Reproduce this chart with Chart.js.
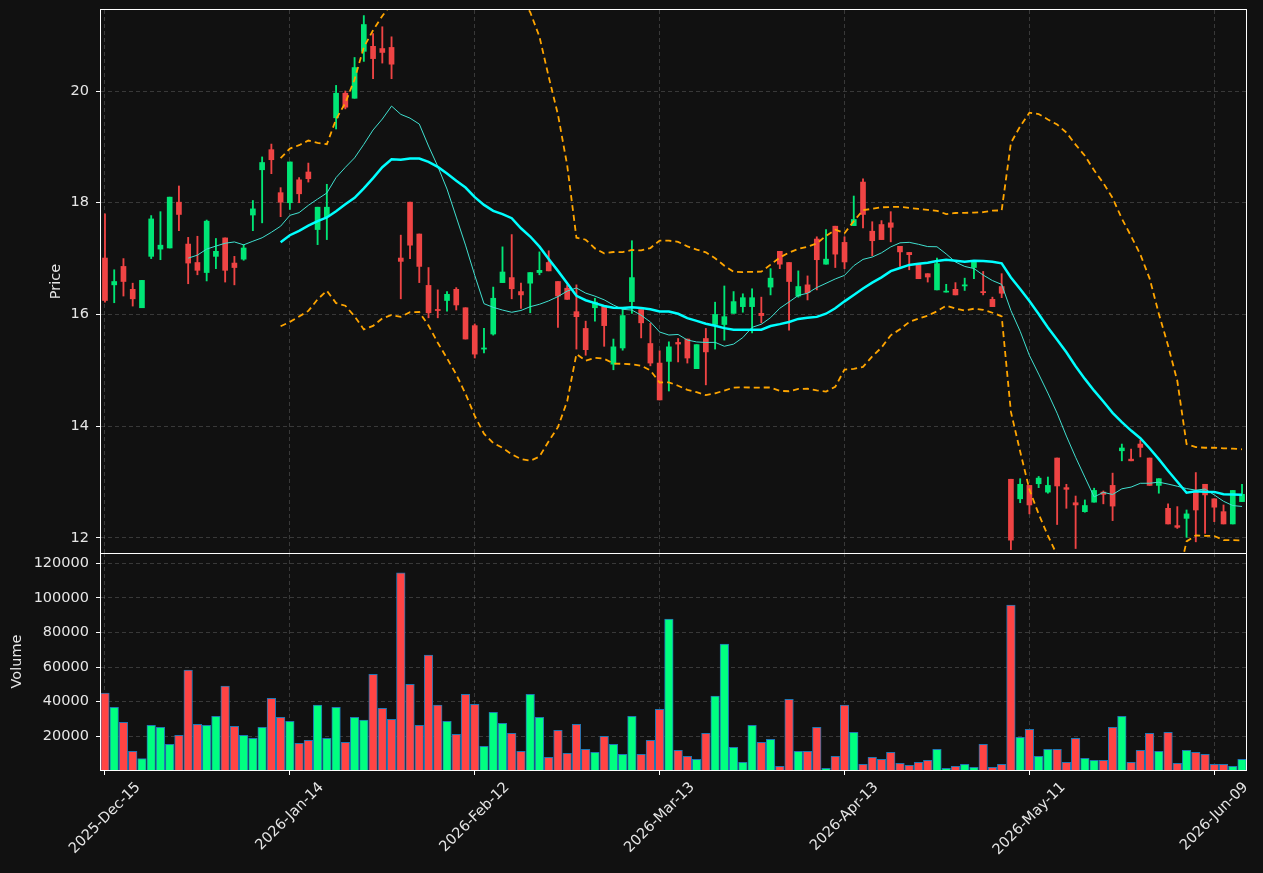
<!DOCTYPE html>
<html>
<head>
<meta charset="utf-8">
<title>Price and volume</title>
<script src="https://cdn.jsdelivr.net/npm/chart.js@4.4.1/dist/chart.umd.min.js"></script>
<style>
  html, body { margin: 0; padding: 0; background: #111111; }
  #wrap { position: relative; width: 1263px; height: 873px; background: #111111; }
  #wrap canvas { position: absolute; left: 0; }
</style>
</head>
<body>
<div id="wrap">
  <canvas id="priceChart" width="1263" height="560" style="top:0"></canvas>
  <canvas id="volumeChart" width="1263" height="320" style="top:553px"></canvas>
</div>
<script>
// daily candles (index 0 = 2025-12-15)
const opens = [17.01, 16.53, 16.86, 16.45, 16.12, 17.04, 17.17, 17.19, 18.01, 17.26,
  16.93, 16.75, 17.04, 17.37, 16.92, 16.99, 17.78, 18.59, 18.95, 18.18,
  18.00, 18.41, 18.55, 17.52, 17.75, 19.52, 19.96, 19.87, 20.71, 20.80,
  20.76, 20.78, 17.01, 18.01, 17.44, 16.52, 16.09, 16.25, 16.45, 16.12,
  15.80, 15.38, 15.65, 16.57, 16.66, 16.41, 16.56, 16.75, 16.93, 16.59,
  16.47, 16.05, 15.75, 16.12, 16.15, 15.11, 15.40, 16.23, 16.09, 15.48,
  15.13, 15.16, 15.50, 15.56, 15.03, 15.57, 15.82, 15.82, 16.02, 16.14,
  16.14, 16.02, 16.49, 17.13, 16.93, 16.33, 16.53, 17.35, 16.90, 17.58,
  17.29, 17.59, 18.37, 17.49, 17.61, 17.64, 17.22, 17.11, 16.90, 16.73,
  16.44, 16.40, 16.45, 16.51, 16.84, 16.41, 16.27, 16.50, 13.05, 12.70,
  12.94, 12.97, 12.82, 13.43, 12.90, 12.63, 12.47, 12.64, 12.82, 12.94,
  13.56, 13.41, 13.68, 13.43, 12.94, 12.53, 12.22, 12.35, 12.84, 12.96,
  12.70, 12.47, 12.25, 12.65];
const highs = [17.80, 16.80, 17.00, 16.56, 16.61, 17.77, 17.84, 18.10, 18.30, 17.38,
  17.40, 17.69, 17.36, 17.37, 17.04, 17.25, 18.04, 18.82, 19.05, 18.27,
  18.73, 18.45, 18.71, 17.92, 18.33, 20.10, 20.00, 20.60, 21.35, 21.03,
  21.15, 20.97, 17.42, 18.01, 17.44, 16.84, 16.44, 16.41, 16.48, 16.12,
  15.83, 15.75, 16.49, 17.21, 17.43, 16.56, 16.75, 17.12, 17.14, 16.59,
  16.53, 16.53, 15.88, 16.29, 16.15, 15.56, 16.12, 17.32, 16.09, 15.84,
  15.35, 15.51, 15.57, 15.56, 15.46, 15.75, 16.22, 16.51, 16.41, 16.37,
  16.46, 16.31, 16.82, 17.13, 16.93, 16.78, 16.69, 17.39, 17.52, 17.58,
  17.39, 18.12, 18.43, 17.66, 17.68, 17.84, 17.22, 17.11, 16.90, 16.73,
  17.01, 16.54, 16.57, 16.65, 16.96, 16.77, 16.31, 16.73, 13.05, 13.06,
  12.94, 13.10, 13.09, 13.43, 12.96, 12.75, 12.68, 12.89, 12.84, 13.16,
  13.68, 13.59, 13.75, 13.43, 13.06, 12.61, 12.56, 12.50, 13.17, 12.96,
  12.70, 12.59, 12.85, 12.96];
const lows = [16.22, 16.21, 16.33, 16.15, 16.12, 17.00, 16.98, 17.19, 17.50, 16.55,
  16.71, 16.60, 16.82, 16.58, 16.53, 16.97, 17.50, 17.64, 18.52, 17.75,
  17.88, 18.00, 18.37, 17.25, 17.34, 19.32, 19.68, 19.87, 20.53, 20.22,
  20.50, 20.22, 16.28, 17.00, 16.57, 15.94, 15.94, 16.06, 16.08, 15.56,
  15.22, 15.31, 15.63, 16.57, 16.28, 16.11, 16.03, 16.71, 16.78, 15.77,
  16.27, 15.38, 15.27, 15.88, 15.43, 15.01, 15.36, 16.02, 15.58, 15.08,
  14.47, 14.63, 15.15, 15.13, 15.03, 14.74, 15.38, 15.54, 16.02, 16.04,
  15.67, 15.85, 16.35, 16.82, 15.72, 16.31, 16.26, 16.44, 16.90, 16.84,
  16.82, 17.59, 17.55, 17.05, 17.34, 17.30, 16.86, 16.80, 16.64, 16.58,
  16.44, 16.40, 16.35, 16.43, 16.64, 16.35, 16.14, 16.30, 11.79, 12.63,
  12.43, 12.90, 12.80, 12.24, 12.53, 11.81, 12.46, 12.64, 12.61, 12.31,
  13.38, 13.38, 13.45, 12.94, 12.80, 12.25, 12.17, 12.01, 11.93, 12.08,
  12.29, 12.25, 12.25, 12.65];
const closes = [16.25, 16.59, 16.59, 16.28, 16.61, 17.71, 17.24, 18.10, 17.79, 16.92,
  16.79, 17.67, 17.13, 16.79, 16.84, 17.19, 17.89, 18.72, 18.77, 18.01,
  18.73, 18.16, 18.43, 17.92, 17.92, 19.96, 19.71, 20.42, 21.19, 20.58,
  20.69, 20.48, 16.95, 17.24, 16.86, 16.03, 16.07, 16.36, 16.17, 15.56,
  15.29, 15.40, 16.29, 16.76, 16.46, 16.35, 16.75, 16.79, 16.78, 16.33,
  16.27, 15.96, 15.37, 16.22, 15.80, 15.42, 15.98, 16.66, 15.85, 15.13,
  14.47, 15.42, 15.47, 15.22, 15.46, 15.33, 16.00, 15.96, 16.23, 16.30,
  16.30, 15.98, 16.65, 16.90, 16.59, 16.50, 16.39, 16.98, 16.99, 17.08,
  16.94, 17.70, 17.79, 17.32, 17.34, 17.56, 17.12, 17.07, 16.64, 16.67,
  16.91, 16.41, 16.35, 16.53, 16.96, 16.39, 16.14, 16.38, 11.96, 12.96,
  12.59, 13.07, 12.94, 12.93, 12.87, 12.59, 12.58, 12.85, 12.78, 12.57,
  13.61, 13.38, 13.62, 12.94, 13.06, 12.25, 12.19, 12.43, 12.50, 12.77,
  12.55, 12.25, 12.85, 12.78];
const volumes = [45000, 36800, 28100, 11300, 7050, 26400, 25200, 15400, 20600, 58250,
  26950, 26400, 31600, 49000, 25800, 20600, 18800, 25200, 42000, 31000,
  28700, 15900, 17700, 38000, 18800, 36800, 16500, 31000, 29300, 55900,
  36200, 29850, 114500, 50100, 26400, 66900, 38000, 28700, 21150, 44300,
  38500, 14200, 33900, 27500, 21700, 11300, 44300, 31000, 7800, 23500,
  10100, 26950, 12500, 10700, 20000, 15400, 9560, 31600, 9560, 17700,
  35650, 87800, 11900, 8400, 6700, 21700, 43200, 73300, 13600, 4900,
  26400, 16500, 18260, 2600, 41400, 11300, 11300, 25200, 1450, 8400,
  38000, 22300, 3770, 7800, 6700, 10700, 4350, 3200, 4900, 6100,
  12460, 1450, 2600, 3770, 2030, 15400, 2030, 3770, 95900, 19400,
  24050, 8400, 12460, 12460, 4900, 18800, 7250, 6100, 6100, 25200,
  31600, 4900, 11900, 21700, 11300, 22300, 4350, 11900, 10700, 9560,
  3770, 3770, 2600, 6700];

const priceTicks = [12, 14, 16, 18, 20];
const volumeTicks = [20000, 40000, 60000, 80000, 100000, 120000];
const tickIdx = [0, 20, 40, 60, 80, 100, 120];
const tickLabels = ['2025-Dec-15', '2026-Jan-14', '2026-Feb-12', '2026-Mar-13',
  '2026-Apr-13', '2026-May-11', '2026-Jun-09'];

const textColor = '#e6e6e6';
const gridColor = 'rgba(255,255,255,0.17)';
const fontSpec = { family: "'DejaVu Sans', sans-serif", size: 14.5 };
Chart.defaults.font.family = fontSpec.family;
Chart.defaults.font.size = fontSpec.size;
Chart.defaults.color = textColor;

const isUp = opens.map((o, i) => closes[i] >= o);
const candleColors = isUp.map(u => u ? '#00e676' : '#ef4444');
const volColors = isUp.map(u => u ? '#00ff80' : '#ff4444');

// rolling mean / bollinger from the closes
function sma(arr, n) {
  const out = [];
  for (let i = n - 1; i < arr.length; i++) {
    let s = 0;
    for (let j = i - n + 1; j <= i; j++) s += arr[j];
    out.push({ x: i, y: s / n });
  }
  return out;
}
function band(arr, n, k) {
  const out = [];
  for (let i = n - 1; i < arr.length; i++) {
    const w = arr.slice(i - n + 1, i + 1);
    const m = w.reduce((a, b) => a + b, 0) / n;
    const sd = Math.sqrt(w.reduce((a, b) => a + (b - m) * (b - m), 0) / (n - 1));
    out.push({ x: i, y: m + k * sd });
  }
  return out;
}

const xMin = -0.43, xMax = 123.43;

// no extra label padding, the plot boxes are placed by hand
function noPad(s) {
  s.paddingTop = 0; s.paddingBottom = 0; s.paddingLeft = 0; s.paddingRight = 0;
}

const frame = {
  id: 'frame',
  afterDatasetsDraw(chart) {
    const { ctx, chartArea: a } = chart;
    const l = Math.round(a.left) - 0.5, t = Math.round(a.top) - 0.5;
    const r = Math.round(a.right) + 0.5, b = Math.round(a.bottom) + 0.5;
    ctx.save();
    ctx.strokeStyle = '#ffffff';
    ctx.lineWidth = 1;
    ctx.strokeRect(l, t, r - l, b - t);
    ctx.restore();
  }
};

// matplotlib style rotated date labels (centred on the tick)
const dateLabels = {
  id: 'dateLabels',
  afterDraw(chart) {
    const { ctx, chartArea, scales: { x } } = chart;
    ctx.save();
    ctx.font = fontSpec.size + 'px ' + fontSpec.family;
    ctx.fillStyle = textColor;
    ctx.textAlign = 'center';
    ctx.textBaseline = 'middle';
    tickIdx.forEach((v, i) => {
      const w = ctx.measureText(tickLabels[i]).width;
      const half = (w + 17) * Math.SQRT1_2 / 2;
      ctx.save();
      ctx.translate(x.getPixelForValue(v), chartArea.bottom + 9 + half);
      ctx.rotate(-Math.PI / 4);
      ctx.fillText(tickLabels[i], 0, 0);
      ctx.restore();
    });
    ctx.restore();
  }
};

new Chart(document.getElementById('priceChart'), {
  type: 'bar',
  data: {
    datasets: [
      {
        label: 'wick',
        data: closes.map((c, i) => ({ x: i, y: [lows[i], highs[i]] })),
        backgroundColor: candleColors,
        barThickness: 1.2,
        grouped: false,
        minBarLength: 1,
        order: 3
      },
      {
        label: 'body',
        data: closes.map((c, i) => ({ x: i, y: [opens[i], c] })),
        backgroundColor: candleColors,
        barThickness: 5,
        grouped: false,
        minBarLength: 1,
        order: 2
      },
      {
        type: 'line', label: 'MA10', data: sma(closes, 10),
        borderColor: '#40e0d0', borderWidth: 1, pointRadius: 0, order: 1
      },
      {
        type: 'line', label: 'MA20', data: sma(closes, 20),
        borderColor: '#00ffff', borderWidth: 2.5, pointRadius: 0, order: 0
      },
      {
        type: 'line', label: 'BB upper', data: band(closes, 20, 2),
        borderColor: '#ffa500', borderWidth: 1.8, borderDash: [6, 4], pointRadius: 0, order: 0
      },
      {
        type: 'line', label: 'BB lower', data: band(closes, 20, -2),
        borderColor: '#ffa500', borderWidth: 1.8, borderDash: [6, 4], pointRadius: 0, order: 0
      }
    ]
  },
  options: {
    responsive: false,
    animation: false,
    events: [],
    layout: { padding: { top: 10, bottom: 7, left: 0, right: 17 } },
    plugins: { legend: { display: false }, tooltip: { enabled: false } },
    scales: {
      x: {
        type: 'linear', min: xMin, max: xMax, offset: false,
        afterBuildTicks: s => { s.ticks = tickIdx.map(v => ({ value: v })); },
        ticks: { display: false },
        grid: { color: gridColor, drawTicks: false, offset: false },
        border: { display: false, dash: [4, 3] },
        afterFit: s => { s.height = 0; noPad(s); }
      },
      y: {
        min: 11.73, max: 21.45,
        afterBuildTicks: s => { s.ticks = priceTicks.map(v => ({ value: v })); },
        ticks: { color: textColor, padding: 7 },
        grid: { color: gridColor, tickLength: 5, tickColor: '#ffffff', tickWidth: 1 },
        border: { display: false, dash: [4, 3] },
        title: { display: true, text: 'Price', color: textColor, padding: { top: 48, bottom: 0 } },
        afterFit: s => { s.width = 101; noPad(s); }
      }
    }
  },
  plugins: [frame]
});

new Chart(document.getElementById('volumeChart'), {
  type: 'bar',
  data: {
    datasets: [{
      label: 'Volume',
      data: volumes.map((v, i) => ({ x: i, y: v })),
      backgroundColor: volColors,
      borderColor: '#1f77b4',
      borderWidth: 1,
      barThickness: 8.6,
      grouped: false
    }]
  },
  options: {
    responsive: false,
    animation: false,
    events: [],
    layout: { padding: { top: 0, bottom: 0, left: 0, right: 17 } },
    plugins: { legend: { display: false }, tooltip: { enabled: false } },
    scales: {
      x: {
        type: 'linear', min: xMin, max: xMax, offset: false,
        afterBuildTicks: s => { s.ticks = tickIdx.map(v => ({ value: v })); },
        ticks: { display: false },
        grid: { color: gridColor, tickLength: 5, tickColor: '#ffffff', tickWidth: 1, offset: false },
        border: { display: false, dash: [4, 3] },
        afterFit: s => { s.height = 103; noPad(s); }
      },
      y: {
        min: 500, max: 126000,
        afterBuildTicks: s => { s.ticks = volumeTicks.map(v => ({ value: v })); },
        ticks: { color: textColor, padding: 7, callback: v => String(v) },
        grid: { color: gridColor, tickLength: 5, tickColor: '#ffffff', tickWidth: 1 },
        border: { display: false, dash: [4, 3] },
        title: { display: true, text: 'Volume', color: textColor, padding: { top: 9, bottom: 0 } },
        afterFit: s => { s.width = 101; noPad(s); }
      }
    }
  },
  plugins: [frame, dateLabels]
});
</script>
</body>
</html>
